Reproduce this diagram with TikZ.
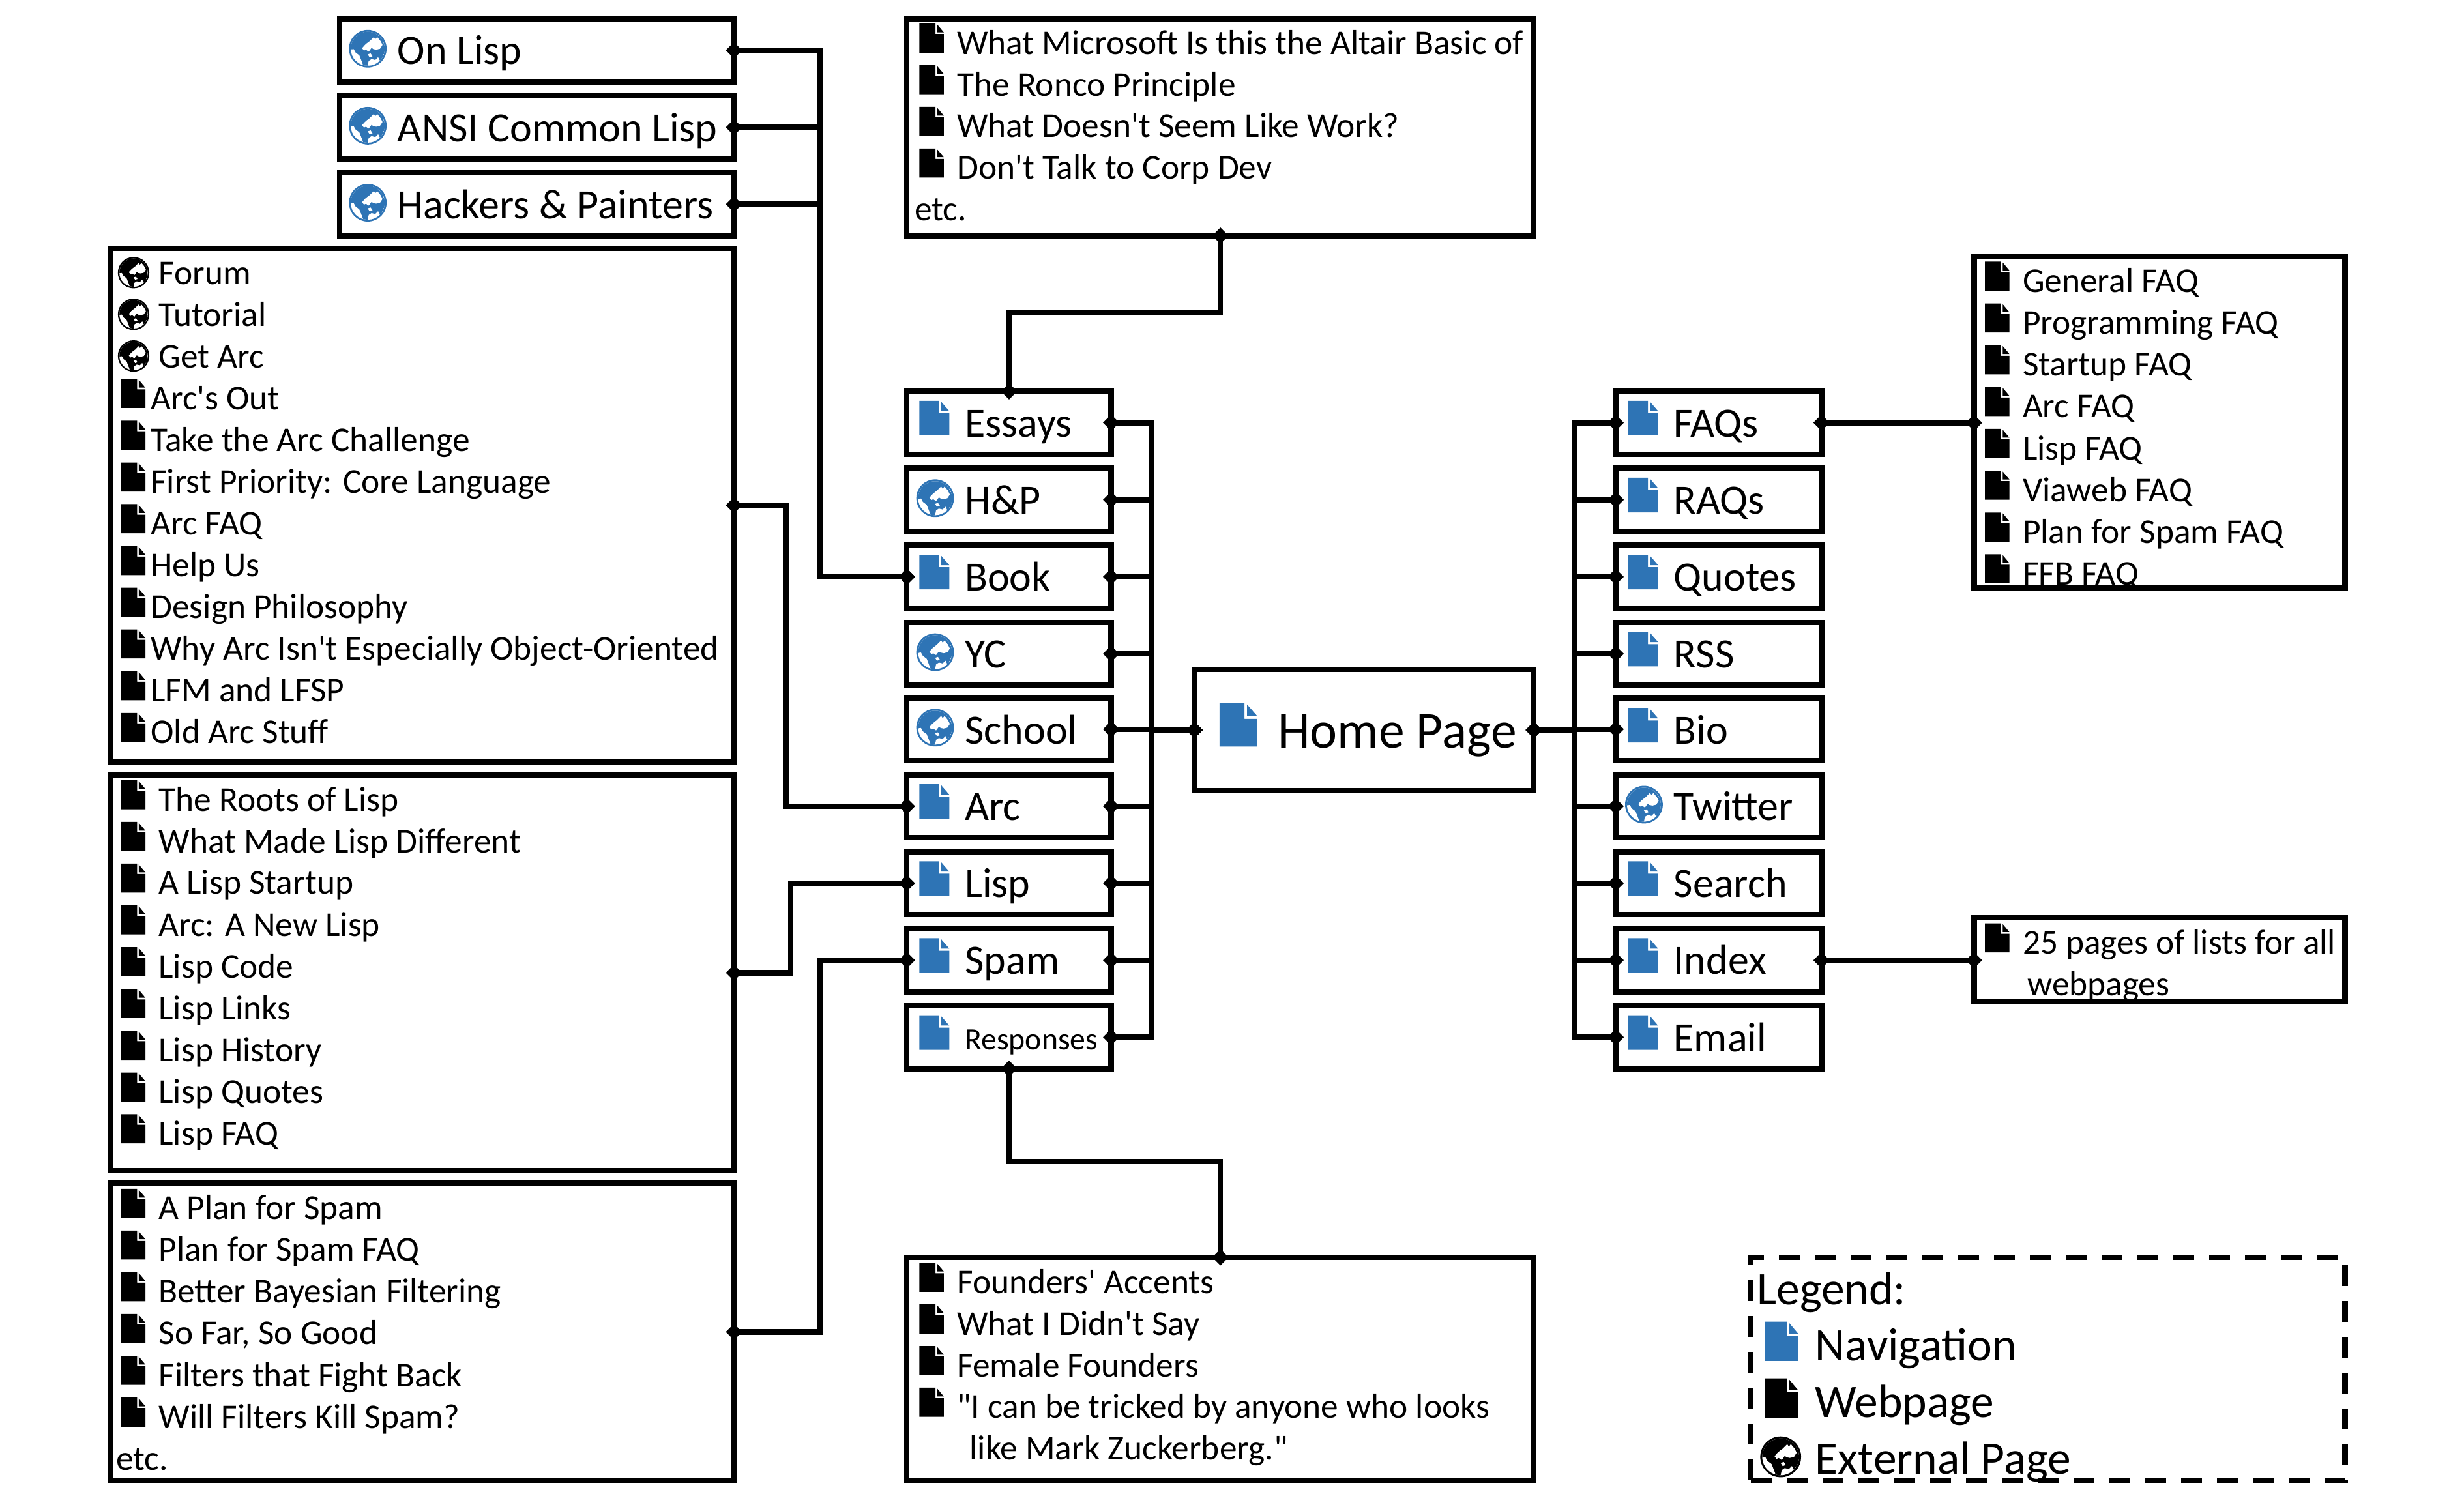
\documentclass[tikz,border=0pt]{standalone}
\usepackage{fontspec}
\newfontfamily\calfont{Carlito}
\usetikzlibrary{arrows.meta}
\definecolor{navblue}{HTML}{2E74B5}
\def\unitpt{0.4822}
\tikzset{
  x=0.4822pt,y=-0.4822pt,
  boxnode/.style={draw=black,line width=1.7pt,inner sep=0pt,outer sep=0pt,anchor=north west,rectangle},
  legendbox/.style={boxnode,dash pattern=on 6.4pt off 4.6pt},
  conn/.style={draw=black,line width=1.65pt,line join=miter,
    {Diamond[length=5pt,width=5pt]}-{Diamond[length=5pt,width=5pt]},shorten >=-2.5pt,shorten <=-2.5pt},
  txt/.style={anchor=base west,inner sep=0pt,outer sep=0pt,text=black},
  navtxt/.style={txt,font=\calfont\fontsize{12.8}{16}\selectfont},
  lsttxt/.style={txt,font=\calfont\fontsize{10.68}{13}\selectfont},
  smalltxt/.style={txt,font=\calfont\fontsize{9.54}{11}\selectfont},
  hometxt/.style={txt,font=\calfont\fontsize{15.9}{20}\selectfont},
  legtxt/.style={txt,font=\calfont\fontsize{14.3}{18}\selectfont},
}
% doc icon: left x, bottom y, w, h, colour
\newcommand\docicon[5]{%
  \begin{scope}[shift={(#1,#2-#4)},xscale=#3,yscale=#4]
    \fill[#5] (0,0)--(0.66,0)--(0.66,0.36)--(1,0.36)--(1,1)--(0,1)--cycle;
    \fill[#5] (0.73,0.03)--(1,0.3)--(0.73,0.3)--cycle;
  \end{scope}}
% globe: centre x, y, r, colour
\newcommand\globeicon[4]{%
  \begin{scope}[shift={(#1,#2)},xscale=#3,yscale=-#3]
    \fill[#4] (0,0) circle (1);
    \fill[white] (0,0) circle (0.9);
    \begin{scope}
    \clip (0,0) circle (0.9);
    \fill[#4] (0,0) circle (0.9);
    \fill[white] (-0.06,0.28)--(0.1,0.4)--(0.32,0.62)--(0.4,0.5)--(0.5,0.62)--(0.68,0.4)--(0.78,0.2)--(0.65,0)--(0.45,-0.05)--(0.3,-0.02)--(0.2,0.05)--(0.05,-0.15)--(-0.1,-0.05)--(-0.2,-0.1)--(-0.3,0.03)--(-0.15,0.2)--cycle;
    \fill[white] (-1,-0.05)--(-0.75,-0.02)--(-0.65,-0.2)--(-0.45,-0.35)--(-0.35,-0.6)--(-0.2,-1)--(-1,-1)--cycle;
    \fill[white] (0,-0.3)--(0.15,-0.25)--(0.25,-0.4)--(0.1,-0.45)--cycle;
    \fill[white] (-0.02,-1)--(0.05,-0.65)--(0.2,-0.55)--(0.4,-0.6)--(0.55,-0.45)--(0.65,-0.65)--(0.5,-1)--cycle;
    \end{scope}
  \end{scope}}
\newcommand\bx[6][boxnode]{%
  \pgfmathsetmacro\bw{(#5-#3)*\unitpt}%
  \pgfmathsetmacro\bh{(#6-#4)*\unitpt}%
  \node[#1,minimum width=\bw pt,minimum height=\bh pt] (#2) at (#3,#4) {};}
% list line with small doc: name, doc x, text x, baseline, text
\newcommand\lstd[5]{\docicon{#2}{#4-1}{15.5}{18.5}{black}\node[lsttxt] (#1) at (#3,#4) {#5};}
% list line with small black globe
\newcommand\lstg[5]{\globeicon{#2}{#4-7.5}{10}{black}\node[lsttxt] (#1) at (#3,#4) {#5};}
% nav entries
\newcommand\nvd[5]{\docicon{#2}{#4-1}{19}{22}{navblue}\node[navtxt] (#1) at (#3,#4) {#5};}
\begin{document}
\begin{tikzpicture}
\useasboundingbox (0,0) rectangle (1567.8,958.9);
% top-left books
\globeicon{234}{31}{12}{navblue}\node[navtxt] (tOnLisp) at (253,41) {On Lisp};
\globeicon{234}{80}{12}{navblue}\node[navtxt] (tAnsi) at (253,90) {ANSI Common Lisp};
\globeicon{234}{129}{12}{navblue}\node[navtxt] (tHackers) at (253,139) {Hackers \& Painters};
% Arc list
\lstg{tForum}{85}{101}{181}{Forum}
\lstg{tTutorial}{85}{101}{207.5}{Tutorial}
\lstg{tGetArc}{85}{101}{234}{Get Arc}
\lstd{tArcOut}{77}{96}{260.6}{Arc's Out}
\lstd{tChallenge}{77}{96}{287.2}{Take the Arc Challenge}
\lstd{tCore}{77}{96}{313.8}{First Priority: Core Language}
\lstd{tArcFaq}{77}{96}{340.3}{Arc FAQ}
\lstd{tHelp}{77}{96}{367}{Help Us}
\lstd{tDesign}{77}{96}{393.5}{Design Philosophy}
\lstd{tWhy}{77}{96}{420}{Why Arc Isn't Especially Object-Oriented}
\lstd{tLfm}{77}{96}{446.6}{LFM and LFSP}
\lstd{tOld}{77}{96}{473.2}{Old Arc Stuff}
% Lisp list
\lstd{tRoots}{77}{101}{516}{The Roots of Lisp}
\lstd{tDiff}{77}{101}{542.5}{What Made Lisp Different}
\lstd{tStartup}{77}{101}{569}{A Lisp Startup}
\lstd{tNewLisp}{77}{101}{595.6}{Arc: A New Lisp}
\lstd{tCode}{77}{101}{622.2}{Lisp Code}
\lstd{tLinks}{77}{101}{648.8}{Lisp Links}
\lstd{tHist}{77}{101}{675.4}{Lisp History}
\lstd{tQuotes}{77}{101}{702}{Lisp Quotes}
\lstd{tLispFaq}{77}{101}{728.5}{Lisp FAQ}
% Spam list
\lstd{tPlan}{77}{101}{776}{A Plan for Spam}
\lstd{tPlanFaq}{77}{101}{802.5}{Plan for Spam FAQ}
\lstd{tBayes}{77}{101}{829}{Better Bayesian Filtering}
\lstd{tSoFar}{77}{101}{855.6}{So Far, So Good}
\lstd{tFight}{77}{101}{882.2}{Filters that Fight Back}
\lstd{tKill}{77}{101}{908.8}{Will Filters Kill Spam?}
\node[lsttxt] (tEtcB) at (74,935.3) {etc.};
% Essays list
\lstd{tAltair}{585}{609}{34.5}{What Microsoft Is this the Altair Basic of}
\lstd{tRonco}{585}{609}{61}{The Ronco Principle}
\lstd{tWork}{585}{609}{87.5}{What Doesn't Seem Like Work?}
\lstd{tCorp}{585}{609}{114}{Don't Talk to Corp Dev}
\node[lsttxt] (tEtcA) at (582,140.5) {etc.};
% Responses list
\lstd{tAccents}{585}{609}{823}{Founders' Accents}
\lstd{tDidnt}{585}{609}{849.5}{What I Didn't Say}
\lstd{tFemale}{585}{609}{876}{Female Founders}
\lstd{tTricked}{585}{609}{902.5}{"I can be tricked by anyone who looks}
\node[lsttxt] (tZuck) at (617,929) {like Mark Zuckerberg."};
% Left nav
\nvd{tEssays}{585}{614}{278}{Essays}
\globeicon{595}{317}{12}{navblue}\node[navtxt] (tHP) at (614,327) {H\&P};
\nvd{tBook}{585}{614}{376}{Book}
\globeicon{595}{415}{12}{navblue}\node[navtxt] (tYC) at (614,425) {YC};
\globeicon{595}{463}{12}{navblue}\node[navtxt] (tSchool) at (614,473.5) {School};
\nvd{tArc}{585}{614}{522}{Arc}
\nvd{tLisp}{585}{614}{571}{Lisp}
\nvd{tSpam}{585}{614}{620}{Spam}
\docicon{585}{668}{19}{22}{navblue}\node[smalltxt] (tResp) at (614,668) {Responses};
% Home
\docicon{776}{475}{24}{27.5}{navblue}\node[hometxt] (tHome) at (813,476) {Home Page};
% Right nav
\nvd{tFaqs}{1036}{1065}{278}{FAQs}
\nvd{tRaqs}{1036}{1065}{327}{RAQs}
\nvd{tQuotesN}{1036}{1065}{376}{Quotes}
\nvd{tRss}{1036}{1065}{425}{RSS}
\nvd{tBio}{1036}{1065}{473.5}{Bio}
\globeicon{1046}{512}{12}{navblue}\node[navtxt] (tTwitter) at (1065,522) {Twitter};
\nvd{tSearch}{1036}{1065}{571}{Search}
\nvd{tIndex}{1036}{1065}{620}{Index}
\nvd{tEmail}{1036}{1065}{669}{Email}
% FAQ list
\lstd{tGen}{1263}{1287}{186}{General FAQ}
\lstd{tProg}{1263}{1287}{212.6}{Programming FAQ}
\lstd{tStFaq}{1263}{1287}{239.2}{Startup FAQ}
\lstd{tArcF}{1263}{1287}{265.8}{Arc FAQ}
\lstd{tLispF}{1263}{1287}{292.4}{Lisp FAQ}
\lstd{tVia}{1263}{1287}{319}{Viaweb FAQ}
\lstd{tPlanF}{1263}{1287}{345.6}{Plan for Spam FAQ}
\lstd{tFfb}{1263}{1287}{372.2}{FFB FAQ}
% Index list
\lstd{tPages}{1263}{1287}{607}{25 pages of lists for all}
\node[lsttxt] (tWeb) at (1290,633.5) {webpages};
% Legend
\node[legtxt] (tLegend) at (1118,830) {Legend:};
\docicon{1123}{866}{21}{25}{navblue}\node[legtxt] (tNav) at (1155,866) {Navigation};
\docicon{1123}{902}{21}{25}{black}\node[legtxt] (tWebL) at (1155,902) {Webpage};
\globeicon{1133}{927}{13}{black}\node[legtxt] (tExt) at (1155,938) {External Page};
% boxes
\bx{onlisp}{216}{12}{467}{52}
\bx{ansi}{216}{61}{467}{101}
\bx{hackers}{216}{110}{467}{150}
\bx{arclist}{70}{158}{467}{485}
\bx{lisplist}{70}{493}{467}{745}
\bx{spamlist}{70}{753}{467}{942}
\bx{essaylist}{577}{12}{976}{150}
\bx{resplist}{577}{800}{976}{942}
\bx{essays}{577}{249}{707}{289}
\bx{hp}{577}{298}{707}{338}
\bx{book}{577}{347}{707}{387}
\bx{yc}{577}{396}{707}{436}
\bx{school}{577}{444}{707}{484}
\bx{arc}{577}{493}{707}{533}
\bx{lisp}{577}{542}{707}{582}
\bx{spam}{577}{591}{707}{631}
\bx{responses}{577}{640}{707}{680}
\bx{home}{760}{426}{976}{503}
\bx{faqs}{1028}{249}{1159}{289}
\bx{raqs}{1028}{298}{1159}{338}
\bx{quotes}{1028}{347}{1159}{387}
\bx{rss}{1028}{396}{1159}{436}
\bx{bio}{1028}{444}{1159}{484}
\bx{twitter}{1028}{493}{1159}{533}
\bx{search}{1028}{542}{1159}{582}
\bx{index}{1028}{591}{1159}{631}
\bx{email}{1028}{640}{1159}{680}
\bx{faqlist}{1256}{163}{1492}{374}
\bx{indexlist}{1256}{584}{1492}{637}
\bx[legendbox]{legend}{1114}{800}{1492}{942}
% trunk coordinates
\coordinate (bookTrunk) at (522,0);
\coordinate (arcTrunk) at (500,0);
\coordinate (lispTrunk) at (503,0);
\coordinate (spamTrunk) at (522,0);
\coordinate (leftTrunk) at (733,0);
\coordinate (rightTrunk) at (1002,0);
\coordinate (essayMid) at (0,199);
\coordinate (respMid) at (0,739);
% connectors
\foreach \n in {onlisp,ansi,hackers}
  \draw[conn] (\n.east) -- (\n.east -| bookTrunk) |- (book.west);
\draw[conn] (arclist.east) -- (arclist.east -| arcTrunk) |- (arc.west);
\draw[conn] (lisplist.east) -- (lisplist.east -| lispTrunk) |- (lisp.west);
\draw[conn] (spamlist.east) -- (spamlist.east -| spamTrunk) |- (spam.west);
\foreach \n in {essays,hp,book,yc,school,arc,lisp,spam,responses}
  \draw[conn] (\n.east) -- (\n.east -| leftTrunk) |- (home.west);
\foreach \n in {faqs,raqs,quotes,rss,bio,twitter,search,index,email}
  \draw[conn] (home.east) -- (home.east -| rightTrunk) |- (\n.west);
\draw[conn] (essaylist.south) -- (essaylist.south |- essayMid) -| (essays.north);
\draw[conn] (responses.south) -- (responses.south |- respMid) -| (resplist.north);
\draw[conn] (faqs.east) -- (faqs.east -| faqlist.west);
\draw[conn] (index.east) -- (index.east -| indexlist.west);
\end{tikzpicture}
\end{document}
